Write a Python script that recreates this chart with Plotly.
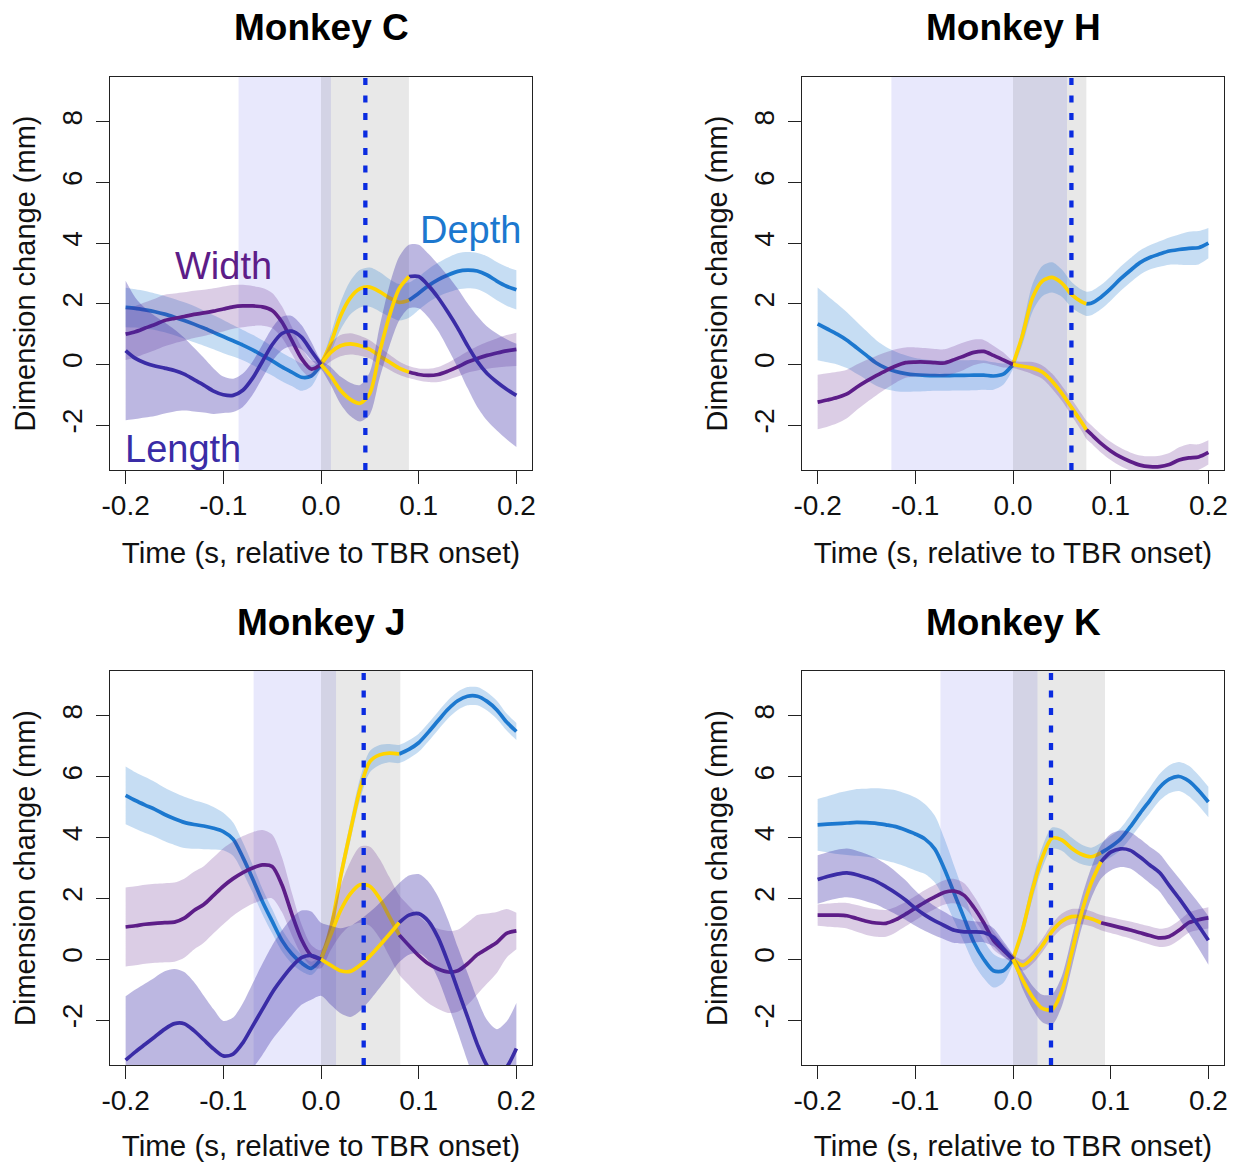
import plotly.graph_objects as go

# ---------------- data ----------------
time_C = [-0.20,-0.19,-0.18,-0.17,-0.16,-0.15,-0.14,-0.13,-0.12,-0.11,-0.10,-0.09,-0.08,-0.07,-0.06,-0.05,-0.04,-0.03,-0.02,-0.01,
          0.00,0.01,0.02,0.03,0.04,0.05,0.06,0.07,0.08,0.09,0.10,0.11,0.12,0.13,0.14,0.15,0.16,0.17,0.18,0.19,0.20]
time_H = [-0.20,-0.19,-0.18,-0.17,-0.16,-0.15,-0.14,-0.13,-0.12,-0.11,-0.10,-0.09,-0.08,-0.07,-0.06,-0.05,-0.04,-0.03,-0.02,-0.01,
          0.00,0.01,0.02,0.03,0.04,0.05,0.06,0.07,0.075,0.08,0.09,0.10,0.11,0.12,0.13,0.14,0.15,0.16,0.17,0.18,0.19,0.20]
time_J = list(time_C)
time_K = list(time_C)

# Monkey C
C_depth = [1.88,1.85,1.80,1.74,1.66,1.56,1.45,1.33,1.20,1.06, 0.92,0.78,0.64,0.48,0.30,0.12,-0.08,-0.25,-0.42,-0.38,
           0.00, 0.70,1.60,2.20,2.50,2.55,2.40,2.20,2.05,2.12, 2.35,2.60,2.80,2.95,3.07,3.11,3.08,2.95,2.75,2.58,2.46]
C_depth_err = [0.65,0.63,0.62,0.60,0.60,0.60,0.60,0.60,0.58,0.56, 0.55,0.52,0.50,0.50,0.50,0.48,0.47,0.46,0.45,0.35,
               0.15, 0.30,0.45,0.55,0.62,0.65,0.65,0.62,0.60,0.58, 0.55,0.55,0.56,0.58,0.60,0.60,0.60,0.62,0.63,0.64,0.65]
C_width = [1.00,1.08,1.20,1.32,1.45,1.52,1.58,1.65,1.70,1.76, 1.83,1.90,1.93,1.93,1.90,1.78,1.40,0.80,0.20,-0.15,
           0.00, 0.40,0.62,0.68,0.62,0.50,0.28,0.08,-0.12,-0.25, -0.33,-0.36,-0.33,-0.22,-0.08,0.08,0.20,0.30,0.38,0.45,0.50]
C_width_err = [0.85,0.85,0.85,0.85,0.85,0.82,0.80,0.78,0.76,0.75, 0.74,0.72,0.70,0.66,0.62,0.58,0.52,0.45,0.38,0.28,
               0.15, 0.30,0.35,0.35,0.33,0.30,0.28,0.25,0.22,0.20, 0.20,0.22,0.25,0.28,0.32,0.35,0.40,0.44,0.48,0.52,0.55]
C_length = [0.46,0.20,0.05,-0.05,-0.12,-0.20,-0.32,-0.50,-0.68,-0.88, -1.00,-1.02,-0.85,-0.45,0.10,0.65,1.02,1.10,0.90,0.45,
            0.00, -0.38,-0.85,-1.15,-1.28,-0.95,0.40,1.60,2.50,2.90, 2.90,2.60,2.20,1.72,1.20,0.62,0.10,-0.30,-0.58,-0.82,-1.02]
C_length_err = [2.30,2.00,1.80,1.65,1.50,1.35,1.20,1.05,0.90,0.75, 0.60,0.55,0.55,0.55,0.55,0.55,0.55,0.50,0.40,0.30,
                0.15, 0.30,0.45,0.55,0.60,0.70,0.85,1.00,1.05,1.05, 1.05,1.05,1.10,1.20,1.30,1.40,1.50,1.55,1.60,1.65,1.70]

# Monkey H
H_depth = [1.34,1.17,1.00,0.80,0.55,0.30,0.05,-0.12,-0.23,-0.30, -0.34,-0.36,-0.37,-0.37,-0.36,-0.36,-0.35,-0.35,-0.38,-0.32,
           0.00, 1.00,2.20,2.75,2.87,2.68,2.30,2.07,2.00, 2.02,2.22, 2.50,2.82,3.10,3.36,3.53,3.64,3.74,3.79,3.83,3.85,4.00]
H_depth_err = [1.20,1.10,1.00,0.92,0.86,0.80,0.75,0.70,0.65,0.60, 0.55,0.52,0.50,0.50,0.50,0.50,0.50,0.48,0.45,0.35,
               0.15, 0.30,0.45,0.50,0.50,0.45,0.42,0.40,0.40, 0.40,0.40, 0.40,0.40,0.40,0.40,0.40,0.42,0.45,0.50,0.55,0.55,0.50]
H_width = [-1.24,-1.17,-1.09,-0.97,-0.75,-0.55,-0.37,-0.20,-0.05,0.06, 0.08,0.08,0.06,0.05,0.16,0.28,0.40,0.43,0.30,0.15,
           0.00, -0.06,-0.12,-0.25,-0.55,-0.95,-1.42,-1.90,-2.15, -2.30,-2.60, -2.85,-3.05,-3.20,-3.32,-3.37,-3.37,-3.30,-3.15,-3.08,-3.05,-2.90]
H_width_err = [0.90,0.88,0.85,0.80,0.75,0.70,0.65,0.60,0.55,0.50, 0.48,0.46,0.45,0.45,0.45,0.45,0.42,0.38,0.32,0.25,
               0.12, 0.15,0.20,0.22,0.25,0.25,0.27,0.28,0.30, 0.30,0.30, 0.30,0.30,0.30,0.32,0.34,0.36,0.38,0.42,0.45,0.42,0.40]

# Monkey J
J_depth = [5.39,5.22,5.07,4.93,4.76,4.62,4.50,4.43,4.38,4.31, 4.20,3.95,3.35,2.65,1.90,1.25,0.62,0.18,-0.12,-0.30,
           0.00, 1.00,2.70,4.20,5.60,6.50,6.72,6.78,6.75,6.90, 7.12,7.47,7.85,8.22,8.50,8.65,8.65,8.48,8.20,7.80,7.49]
J_depth_err = [0.95,0.93,0.92,0.90,0.88,0.86,0.84,0.80,0.76,0.70, 0.62,0.55,0.50,0.46,0.42,0.40,0.36,0.32,0.28,0.22,
               0.15, 0.22,0.28,0.32,0.35,0.35,0.33,0.30,0.30,0.30, 0.30,0.30,0.30,0.30,0.30,0.30,0.30,0.30,0.30,0.28,0.28]
J_width = [1.06,1.10,1.15,1.18,1.20,1.22,1.35,1.60,1.80,2.10, 2.40,2.65,2.85,3.00,3.10,3.05,2.45,1.50,0.65,0.12,
           0.00, 0.80,1.60,2.15,2.45,2.40,2.00,1.40,0.80,0.45, 0.12,-0.15,-0.32,-0.42,-0.38,-0.15,0.15,0.35,0.55,0.85,0.93]
J_width_err = [1.30,1.30,1.30,1.30,1.30,1.30,1.30,1.28,1.26,1.25, 1.25,1.22,1.20,1.18,1.15,1.05,0.90,0.70,0.50,0.35,
               0.30, 0.50,0.80,1.05,1.25,1.30,1.30,1.30,1.30,1.30, 1.30,1.30,1.32,1.35,1.35,1.35,1.30,1.15,1.00,0.80,0.60]
J_length = [-3.32,-3.05,-2.80,-2.55,-2.30,-2.12,-2.12,-2.35,-2.65,-2.95, -3.18,-3.12,-2.75,-2.20,-1.65,-1.10,-0.65,-0.25,0.05,0.12,
            0.00, -0.20,-0.38,-0.40,-0.20,0.10,0.45,0.82,1.20,1.45, 1.50,1.25,0.70,-0.10,-1.00,-1.90,-2.80,-3.50,-3.80,-3.55,-2.94]
J_length_err = [2.10,2.05,2.00,1.95,1.90,1.80,1.70,1.60,1.45,1.30, 1.15,1.20,1.30,1.40,1.50,1.55,1.60,1.60,1.55,1.45,
                1.20, 1.30,1.40,1.50,1.50,1.45,1.40,1.35,1.30,1.30, 1.30,1.30,1.35,1.40,1.40,1.45,1.50,1.50,1.50,1.50,1.50]

# Monkey K
K_depth = [4.42,4.44,4.46,4.48,4.50,4.49,4.47,4.42,4.36,4.25, 4.12,3.95,3.62,2.95,2.15,1.35,0.55,0.00,-0.38,-0.38,
           0.00, 1.00,2.30,3.35,3.98,3.92,3.65,3.45,3.37,3.50, 3.70,3.95,4.35,4.80,5.22,5.65,5.92,6.01,5.86,5.55,5.17]
K_depth_err = [0.85,0.92,1.00,1.05,1.10,1.12,1.15,1.18,1.20,1.20, 1.20,1.15,1.10,1.00,0.90,0.80,0.70,0.62,0.55,0.40,
               0.15, 0.25,0.30,0.35,0.35,0.35,0.35,0.32,0.30,0.32, 0.35,0.36,0.38,0.40,0.42,0.44,0.46,0.48,0.50,0.50,0.50]
K_width = [1.45,1.45,1.45,1.43,1.34,1.25,1.19,1.18,1.30,1.48, 1.68,1.88,2.05,2.20,2.24,2.10,1.70,1.20,0.62,0.30,
           0.00, -0.20,0.05,0.45,0.92,1.25,1.40,1.40,1.33,1.20, 1.12,1.04,0.96,0.87,0.78,0.70,0.75,0.95,1.20,1.30,1.36]
K_width_err = [0.35,0.38,0.40,0.42,0.44,0.45,0.45,0.44,0.42,0.40, 0.40,0.40,0.40,0.40,0.40,0.40,0.38,0.34,0.30,0.22,
               0.15, 0.18,0.20,0.22,0.24,0.25,0.25,0.25,0.25,0.25, 0.26,0.27,0.28,0.29,0.30,0.30,0.31,0.32,0.33,0.34,0.35]
K_length = [2.62,2.72,2.80,2.84,2.78,2.68,2.56,2.38,2.18,1.95, 1.68,1.45,1.26,1.10,0.95,0.90,0.90,0.88,0.72,0.35,
            0.00, -0.69,-1.25,-1.62,-1.65,-1.05,0.20,1.50,2.50,3.20, 3.52,3.63,3.58,3.36,3.10,2.85,2.42,2.00,1.55,1.10,0.62]
K_length_err = [0.80,0.80,0.80,0.80,0.79,0.78,0.76,0.74,0.70,0.65, 0.58,0.52,0.48,0.45,0.42,0.38,0.35,0.32,0.30,0.25,
                0.15, 0.30,0.38,0.45,0.50,0.50,0.50,0.50,0.50,0.55, 0.60,0.60,0.60,0.60,0.60,0.62,0.64,0.66,0.70,0.75,0.80]

# event windows: [start, end] of lavender window, [start, end] of grey window, dotted marker time
lav_C, grey_C, mark_C = [-0.0844, 0.0102], [0.0, 0.0900], 0.0454
lav_H, grey_H, mark_H = [-0.1245, 0.0553], [0.0, 0.0751], 0.0598
lav_J, grey_J, mark_J = [-0.0690, 0.0154], [0.0, 0.0812], 0.0437
lav_K, grey_K, mark_K = [-0.0743, 0.0250], [0.0, 0.0942], 0.0389

titles = ["Monkey C", "Monkey H", "Monkey J", "Monkey K"]
x_ticks = [-0.2, -0.1, 0.0, 0.1, 0.2]
x_ticktext = ["-0.2", "-0.1", "0.0", "0.1", "0.2"]
y_ticks = [-2, 0, 2, 4, 6, 8]
y_ticktext = ["-2", "0", "2", "4", "6", "8"]

# ---------------- styling ----------------
FONT = "Liberation Sans, Arial, Helvetica, sans-serif"
COL = {"Depth": "#1c78cf", "Width": "#5d1d88", "Length": "#3a2ca6"}
RIB = {"Depth": "rgba(28,120,207,0.25)", "Width": "rgba(93,29,136,0.22)", "Length": "rgba(58,44,166,0.34)"}
YELLOW = "#ffd400"
AXC = "#222222"
LW = 3.7

W, H = 1239, 1162
xdom = [[110 / W, 532 / W], [802 / W, 1224 / W]]
ydom = [[1 - 470 / H, 1 - 77 / H], [1 - 1065 / H, 1 - 671 / H]]

panels = [
    dict(t=time_C, s=[("Depth", C_depth, C_depth_err), ("Width", C_width, C_width_err), ("Length", C_length, C_length_err)],
         lav=lav_C, grey=grey_C, mark=mark_C, col=0, row=0),
    dict(t=time_H, s=[("Depth", H_depth, H_depth_err), ("Width", H_width, H_width_err)],
         lav=lav_H, grey=grey_H, mark=mark_H, col=1, row=0),
    dict(t=time_J, s=[("Depth", J_depth, J_depth_err), ("Width", J_width, J_width_err), ("Length", J_length, J_length_err)],
         lav=lav_J, grey=grey_J, mark=mark_J, col=0, row=1),
    dict(t=time_K, s=[("Depth", K_depth, K_depth_err), ("Width", K_width, K_width_err), ("Length", K_length, K_length_err)],
         lav=lav_K, grey=grey_K, mark=mark_K, col=1, row=1),
]


def seg(t, v, lo, hi):
    pts = [(a, b) for a, b in zip(t, v) if lo - 1e-9 <= a <= hi + 1e-9]
    return [a for a, _ in pts], [b for _, b in pts]


fig = go.Figure()
shapes = []
annotations = []
layout_axes = {}

for i, p in enumerate(panels):
    n = "" if i == 0 else str(i + 1)
    xa, ya = "x" + n, "y" + n
    t = p["t"]
    g0, g1 = p["grey"]
    yend = max(tt for tt in t if tt <= g1 + 1e-9)
    for name, v, e in p["s"]:
        lo = [a - b for a, b in zip(v, e)]
        hi = [a + b for a, b in zip(v, e)]
        fig.add_trace(go.Scatter(x=t, y=lo, mode="lines", line=dict(width=0, shape="spline", smoothing=0.8),
                                 hoverinfo="skip", showlegend=False, xaxis=xa, yaxis=ya))
        fig.add_trace(go.Scatter(x=t, y=hi, mode="lines", line=dict(width=0, shape="spline", smoothing=0.8),
                                 fill="tonexty", fillcolor=RIB[name], hoverinfo="skip", showlegend=False,
                                 xaxis=xa, yaxis=ya))
        for (s0, s1, c) in [(t[0], g0, COL[name]), (yend, t[-1], COL[name]), (g0, yend, YELLOW)]:
            sx, sy = seg(t, v, s0, s1)
            fig.add_trace(go.Scatter(x=sx, y=sy, mode="lines",
                                     line=dict(width=LW, color=c, shape="spline", smoothing=0.8),
                                     showlegend=False, hoverinfo="skip", xaxis=xa, yaxis=ya))

    # shaded windows
    shapes.append(dict(type="rect", xref=xa, yref=ya + " domain", x0=p["lav"][0], x1=p["lav"][1], y0=0, y1=1,
                       fillcolor="#e8e8fc", line=dict(width=0), layer="below"))
    shapes.append(dict(type="rect", xref=xa, yref=ya + " domain", x0=g0, x1=g1, y0=0, y1=1,
                       fillcolor="rgba(0,0,0,0.09)", line=dict(width=0), layer="below"))
    shapes.append(dict(type="line", xref=xa, yref=ya + " domain", x0=p["mark"], x1=p["mark"], y0=0, y1=1,
                       line=dict(color="#0a2be0", width=4.3, dash="7px,10.5px"), layer="above"))

    xd = xdom[p["col"]]
    yd = ydom[p["row"]]
    layout_axes["xaxis" + n] = dict(
        domain=xd, anchor=ya, range=[-0.216, 0.216], tickvals=x_ticks, ticktext=x_ticktext,
        ticks="outside", ticklen=13, tickwidth=1.3, tickcolor=AXC, showline=True, linecolor=AXC, linewidth=1.3,
        mirror=True, showgrid=False, zeroline=False, automargin=False, ticklabelstandoff=-3,
        tickfont=dict(size=28, color="#111", family=FONT),
        title=dict(text="Time (s, relative to TBR onset)", font=dict(size=29.5, color="#111", family=FONT), standoff=22))
    layout_axes["yaxis" + n] = dict(
        domain=yd, anchor=xa, range=[-3.48, 9.48], tickvals=y_ticks, ticktext=y_ticktext, tickangle=-90,
        ticks="outside", ticklen=13, tickwidth=1.3, tickcolor=AXC, showline=True, linecolor=AXC, linewidth=1.3,
        mirror=True, showgrid=False, zeroline=False, automargin=False, ticklabelstandoff=3,
        tickfont=dict(size=28, color="#111", family=FONT),
        title=dict(text="Dimension change (mm)", font=dict(size=29, color="#111", family=FONT), standoff=12))

    annotations.append(dict(text="<b>" + titles[i] + "</b>", xref="paper", yref="paper",
                            x=(xd[0] + xd[1]) / 2, y=(1 - 28 / H) if p["row"] == 0 else (1 - 622 / H),
                            xanchor="center", yanchor="middle", showarrow=False,
                            font=dict(size=37, color="#000", family=FONT)))

# series labels in Monkey C
for name, tx, vy in [("Width", -0.100, 3.25), ("Depth", 0.153, 4.45), ("Length", -0.141, -2.8)]:
    annotations.append(dict(text=name, xref="x", yref="y", x=tx, y=vy, xanchor="center", yanchor="middle",
                            showarrow=False, font=dict(size=38, color=COL[name], family=FONT)))

fig.update_layout(
    width=W, height=H, margin=dict(l=0, r=0, t=0, b=0),
    paper_bgcolor="white", plot_bgcolor="white",
    font=dict(family=FONT, color="#111"),
    showlegend=False, shapes=shapes, annotations=annotations,
    **layout_axes)

fig.write_html("out.html")
